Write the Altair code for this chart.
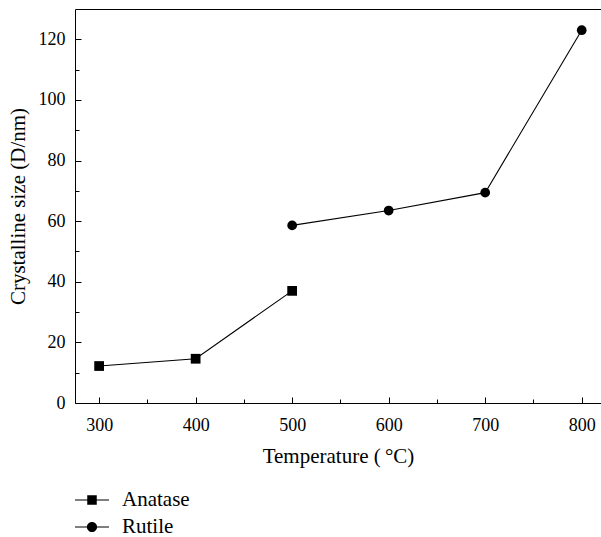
import altair as alt
import pandas as pd

# ---- data ----
anatase_temp = [300, 400, 500]
anatase_size = [12.2, 14.6, 37.0]
rutile_temp = [500, 600, 700, 800]
rutile_size = [58.6, 63.5, 69.4, 123.0]
series_names = ["Anatase", "Rutile"]

x_major = [300, 400, 500, 600, 700, 800]
x_ticks = [300, 350, 400, 450, 500, 550, 600, 650, 700, 750, 800]
y_major = [0, 20, 40, 60, 80, 100, 120]
y_ticks = [0, 10, 20, 30, 40, 50, 60, 70, 80, 90, 100, 110, 120]

df = pd.DataFrame({
    "temp": anatase_temp + rutile_temp,
    "size": anatase_size + rutile_size,
    "phase": [series_names[0]] * len(anatase_temp) + [series_names[1]] * len(rutile_temp),
})

FONT = "Liberation Serif"
W, H = 526, 394
xs = alt.Scale(domain=[275, 820], nice=False, zero=False)
ys = alt.Scale(domain=[0, 130], nice=False, zero=True)

# legend glyphs: line with marker
SQ_PATH = "M-1,-0.035H1V0.035H-1Z M-0.28,-0.28H0.28V0.28H-0.28Z"
CI_PATH = "M-1,-0.035H1V0.035H-1Z M-0.3,0A0.3 0.3 0 1 1 0.3,0A0.3 0.3 0 1 1 -0.3,0Z"

base = alt.Chart(df)

x_main = alt.X("temp:Q", scale=xs, axis=alt.Axis(
    values=x_major, ticks=False, grid=False, title="Temperature (\u2009°C)",
    labelPadding=13, titlePadding=11, domainColor="black", domainWidth=1,
    labelFont=FONT, labelFontSize=18, labelColor="black", titleFont=FONT,
    titleFontSize=21, titleFontWeight="normal", titleColor="black"))
y_main = alt.Y("size:Q", scale=ys, axis=alt.Axis(
    values=y_major, ticks=False, grid=False, title="Crystalline size (D/nm)",
    labelPadding=10, titlePadding=10, domainColor="black", domainWidth=1,
    labelFont=FONT, labelFontSize=18, labelColor="black", titleFont=FONT,
    titleFontSize=21, titleFontWeight="normal", titleColor="black"))

lines = base.mark_line(color="black", strokeWidth=1.1).encode(
    x=x_main, y=y_main, detail="phase:N")

points = base.mark_point(filled=True, color="black", size=95, opacity=1).encode(
    x=alt.X("temp:Q", scale=xs, axis=None),
    y=alt.Y("size:Q", scale=ys, axis=None),
    shape=alt.Shape("phase:N", scale=alt.Scale(domain=series_names, range=["square", "circle"]), legend=None))

legend_layer = base.mark_point(filled=True, color="black").encode(
    x=alt.X("temp:Q", scale=xs, axis=None),
    y=alt.Y("size:Q", scale=ys, axis=None),
    shape=alt.Shape("phase:N", scale=alt.Scale(domain=series_names, range=[SQ_PATH, CI_PATH]),
                    legend=alt.Legend(title=None, orient="none", legendX=0, legendY=480,
                                      direction="vertical", symbolSize=1156,
                                      symbolFillColor="black", symbolStrokeWidth=0,
                                      symbolOpacity=1, labelFont=FONT, labelFontSize=21,
                                      labelColor="black", labelOffset=13, clipHeight=22,
                                      rowPadding=5, padding=0))).transform_filter("false")

# inward ticks (major longer, minor shorter) via axes moved onto the opposite side
ticks = base.mark_point(opacity=0).encode(
    x=alt.X("temp:Q", scale=xs, axis=alt.Axis(
        orient="top", offset=-H, values=x_ticks, labels=False, domain=False, grid=False,
        tickSize={"condition": {"test": "datum.value % 100 === 0", "value": 6}, "value": 4},
        tickColor="black", tickWidth=1, title=None)),
    y=alt.Y("size:Q", scale=ys, axis=alt.Axis(
        orient="right", offset=-W, values=y_ticks, labels=False, domain=False, grid=False,
        tickSize={"condition": {"test": "datum.value % 20 === 0", "value": 6}, "value": 4},
        tickColor="black", tickWidth=1, title=None)))

border = base.mark_point(opacity=0).encode(
    x=alt.X("temp:Q", scale=xs, axis=alt.Axis(
        orient="top", values=[], labels=False, ticks=False, domain=True, grid=False,
        domainColor="black", domainWidth=1, title=None)),
    y=alt.Y("size:Q", scale=ys, axis=None))

chart = alt.layer(lines, points, legend_layer, ticks, border).resolve_axis(
    x="independent", y="independent").resolve_scale(shape="independent").properties(
    width=W, height=H,
    padding={"left": 75, "top": 9, "right": 0, "bottom": 134},
    autosize=alt.AutoSizeParams(type="none"),
    background="white",
).configure_view(stroke=None)

chart.save("out.html", embed_options={"renderer": "svg", "actions": False})
